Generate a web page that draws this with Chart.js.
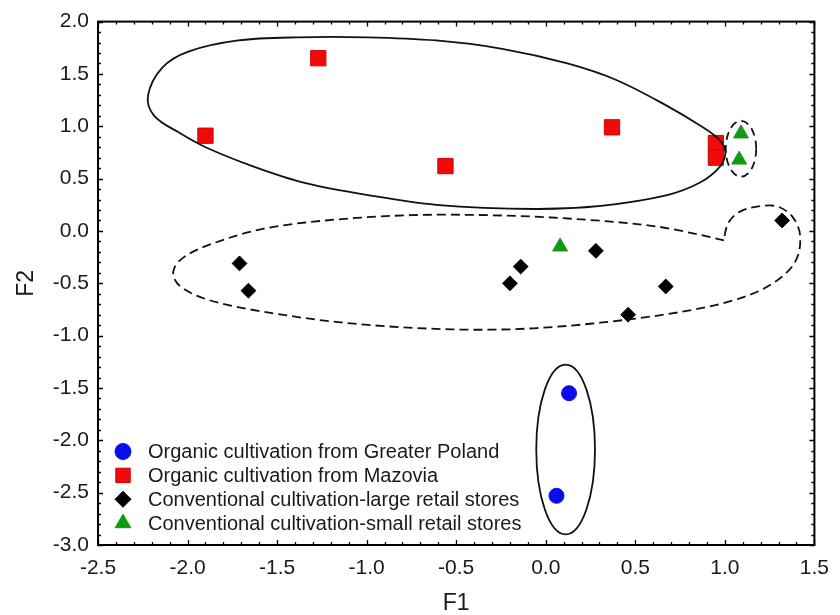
<!DOCTYPE html>
<html>
<head>
<meta charset="utf-8">
<script src="https://cdn.jsdelivr.net/npm/chart.js@4.4.1/dist/chart.umd.min.js"></script>
<style>
  html, body { margin: 0; padding: 0; background: #fff; }
</style>
</head>
<body>
<canvas id="myChart" width="840" height="615"></canvas>
<script>
'use strict'
// group names, same order as the datasets
const groupLabels = [
    'Organic cultivation from Greater Poland',
    'Organic cultivation from Mazovia',
    'Conventional cultivation-large retail stores',
    'Conventional cultivation-small retail stores'
];

// points (F1, F2)
const blueX = [0.13, 0.06];
const blueY = [-1.55, -2.53];
const redX = [-1.90, -1.27, -0.56, 0.37, 0.95, 0.95];
const redY = [0.91, 1.65, 0.62, 0.99, 0.84, 0.70];
const blackX = [-1.71, -1.66, -0.20, -0.14, 0.28, 0.46, 0.67, 1.32];
const blackY = [-0.31, -0.57, -0.50, -0.34, -0.19, -0.80, -0.53, 0.10];
const greenX = [1.09, 1.08, 0.08];
const greenY = [0.93, 0.68, -0.15];

// tick values of the axes
const xTicks = [-2.5, -2.0, -1.5, -1.0, -0.5, 0.0, 0.5, 1.0, 1.5];
const yTicks = [-3.0, -2.5, -2.0, -1.5, -1.0, -0.5, 0.0, 0.5, 1.0, 1.5, 2.0];

// hand drawn outlines round the groups, in F1/F2 units
const mazoviaLineX = [-2.221, -2.141, -1.992, -1.717, -1.386, -0.999, -0.613, -0.243, 0.121, 0.397, 0.672, 0.859, 0.970, 1.003, 0.970, 0.859, 0.672, 0.308, -0.061, -0.613, -0.983, -1.347, -1.623, -1.899, -2.048, -2.186];
const mazoviaLineY = [1.29, 1.56, 1.715, 1.82, 1.85, 1.85, 1.82, 1.74, 1.60, 1.44, 1.20, 1.01, 0.87, 0.75, 0.61, 0.46, 0.34, 0.24, 0.21, 0.25, 0.34, 0.46, 0.61, 0.80, 0.94, 1.10];
const largeLineX = [0.995, 0.63, 0.16, -0.30, -0.77, -1.23, -1.58, -1.86, -2.02, -2.08, -2.04, -1.88, -1.58, -1.11, -0.53, -0.07, 0.44, 0.86, 1.14, 1.31, 1.40, 1.42, 1.38, 1.30, 1.21, 1.09, 1.02];
const largeLineY = [-0.09, 0.04, 0.115, 0.15, 0.15, 0.10, 0.02, -0.12, -0.25, -0.39, -0.53, -0.66, -0.77, -0.88, -0.94, -0.93, -0.85, -0.74, -0.61, -0.45, -0.27, -0.04, 0.13, 0.23, 0.24, 0.19, 0.08];
const largeLineCorners = [0];
// ellipses: center x, center y, half width, half height
const smallEllipse = [1.09, 0.785, 0.085, 0.267];
const poznanEllipse = [0.111, -2.087, 0.164, 0.811];

const textColor = '#1a1a1a';
const fontFamily = "'Liberation Sans', Arial, sans-serif";

function toPoints(xs, ys){
    return xs.map((x, i) => ({x: x, y: ys[i]}));
}

//Closed smooth curve through the points, the handles are scaled by segment length
//so uneven spacing does not make the line wobble
function smoothClosedPath(ctx, pts, corners){
    const n = pts.length;
    const dirs = pts.map((p, i) => {
        if (corners.includes(i)) return {x: 0, y: 0};
        const a = pts[(i - 1 + n) % n];
        const b = pts[(i + 1) % n];
        const len = Math.hypot(b.x - a.x, b.y - a.y) || 1;
        return {x: (b.x - a.x) / len, y: (b.y - a.y) / len};
    });
    ctx.moveTo(pts[0].x, pts[0].y);
    for (let i = 0; i < n; i++){
        const j = (i + 1) % n;
        const d = Math.hypot(pts[j].x - pts[i].x, pts[j].y - pts[i].y) / 3;
        ctx.bezierCurveTo(pts[i].x + dirs[i].x * d, pts[i].y + dirs[i].y * d,
                          pts[j].x - dirs[j].x * d, pts[j].y - dirs[j].y * d,
                          pts[j].x, pts[j].y);
    }
    ctx.closePath();
}

const outlines = {
    id: 'outlines',
    afterDatasetsDraw(chart){
        const ctx = chart.ctx;
        const xs = chart.scales.x;
        const ys = chart.scales.y;
        const px = (xv, yv) => ({x: xs.getPixelForValue(xv), y: ys.getPixelForValue(yv)});

        ctx.save();
        ctx.strokeStyle = '#111';
        ctx.lineWidth = 1.8;

        //solid outline round Mazovia
        ctx.setLineDash([]);
        ctx.beginPath();
        smoothClosedPath(ctx, mazoviaLineX.map((v, i) => px(v, mazoviaLineY[i])), []);
        ctx.stroke();

        //dashed outline round the large stores
        ctx.setLineDash([9, 5]);
        ctx.beginPath();
        smoothClosedPath(ctx, largeLineX.map((v, i) => px(v, largeLineY[i])), largeLineCorners);
        ctx.stroke();

        //the two ellipses
        const drawEllipse = (e, dash) => {
            const c = px(e[0], e[1]);
            const rx = Math.abs(xs.getPixelForValue(e[0] + e[2]) - c.x);
            const ry = Math.abs(ys.getPixelForValue(e[1] + e[3]) - c.y);
            ctx.setLineDash(dash);
            ctx.beginPath();
            ctx.ellipse(c.x, c.y, rx, ry, 0, 0, Math.PI * 2);
            ctx.stroke();
        };
        drawEllipse(smallEllipse, [8, 5]);
        drawEllipse(poznanEllipse, []);
        ctx.restore();
    }
};

//Box round the plot with inward major and minor ticks on all four sides
const frame = {
    id: 'frame',
    afterDraw(chart){
        const ctx = chart.ctx;
        const a = chart.chartArea;
        const xs = chart.scales.x;
        const ys = chart.scales.y;
        ctx.save();
        ctx.strokeStyle = '#000';
        ctx.lineWidth = 1.3;
        ctx.beginPath();
        for (let k = Math.round(xs.min * 10); k <= Math.round(xs.max * 10); k++){
            const len = k % 5 == 0 ? 5 : 3;
            const p = Math.round(xs.getPixelForValue(k / 10)) + 0.5;
            ctx.moveTo(p, a.bottom); ctx.lineTo(p, a.bottom - len);
            ctx.moveTo(p, a.top); ctx.lineTo(p, a.top + len);
        }
        for (let k = Math.round(ys.min * 10); k <= Math.round(ys.max * 10); k++){
            const len = k % 5 == 0 ? 5 : 3;
            const p = Math.round(ys.getPixelForValue(k / 10)) + 0.5;
            ctx.moveTo(a.left, p); ctx.lineTo(a.left + len, p);
            ctx.moveTo(a.right, p); ctx.lineTo(a.right - len, p);
        }
        ctx.stroke();
        ctx.lineWidth = 2;
        ctx.strokeRect(a.left, a.top, a.right - a.left, a.bottom - a.top);
        ctx.restore();
    }
};

//Legend sits inside the plot, bottom left, without a box
const innerLegend = {
    id: 'innerLegend',
    afterDraw(chart){
        const ctx = chart.ctx;
        const a = chart.chartArea;
        const rowH = 23.9;
        const firstY = a.bottom - 93.5;
        ctx.save();
        ctx.font = '20px ' + fontFamily;
        ctx.textBaseline = 'middle';
        ctx.textAlign = 'left';
        chart.data.datasets.forEach((ds, i) => {
            const y = firstY + i * rowH;
            ctx.fillStyle = ds.backgroundColor;
            ctx.strokeStyle = ds.borderColor;
            ctx.lineWidth = ds.borderWidth;
            Chart.helpers.drawPoint(ctx, {
                pointStyle: ds.pointStyle,
                radius: ds.legendRadius,
                rotation: 0,
                borderWidth: ds.borderWidth
            }, a.left + 25, y);
            ctx.fillStyle = textColor;
            ctx.fillText(ds.label, a.left + 50, y + 1);
        });
        ctx.restore();
    }
};

const chartData = {
    datasets: [{
        label: groupLabels[0],
        data: toPoints(blueX, blueY),
        pointStyle: 'circle',
        pointRadius: 7.5,
        legendRadius: 8,
        backgroundColor: '#0b0bf0',
        borderColor: '#0b0bf0',
        borderWidth: 1
    }, {
        label: groupLabels[1],
        data: toPoints(redX, redY),
        pointStyle: 'rect',
        pointRadius: 10.8,
        legendRadius: 10.2,
        backgroundColor: '#f20a0a',
        borderColor: '#d40000',
        borderWidth: 1
    }, {
        label: groupLabels[2],
        data: toPoints(blackX, blackY),
        pointStyle: 'rectRot',
        pointRadius: 7.4,
        legendRadius: 8,
        backgroundColor: '#000',
        borderColor: '#000',
        borderWidth: 1
    }, {
        label: groupLabels[3],
        data: toPoints(greenX, greenY),
        pointStyle: 'triangle',
        pointRadius: 8.6,
        legendRadius: 9,
        backgroundColor: '#119a11',
        borderColor: '#119a11',
        borderWidth: 1
    }]
};

const tickFont = {family: fontFamily, size: 21};
const titleFont = {family: fontFamily, size: 23, lineHeight: 1};

const config = {
    type: 'scatter',
    data: chartData,
    options: {
        responsive: false,
        animation: false,
        layout: {padding: {left: 0, top: 18, right: 17, bottom: 0}},
        plugins: {
            legend: {display: false},
            tooltip: {enabled: false}
        },
        scales: {
            x: {
                type: 'linear',
                min: -2.5,
                max: 1.5,
                afterBuildTicks: s => { s.ticks = xTicks.map(v => ({value: v})); },
                afterFit: s => { s.height = 70; },
                grid: {display: false, drawTicks: false},
                border: {display: false},
                ticks: {padding: 11, font: tickFont, color: textColor, maxRotation: 0, callback: v => v.toFixed(1)},
                title: {display: true, text: 'F1', font: titleFont, color: textColor, padding: {top: 0, bottom: 0}}
            },
            y: {
                type: 'linear',
                min: -3,
                max: 2,
                afterBuildTicks: s => { s.ticks = yTicks.map(v => ({value: v})); },
                afterFit: s => { s.width = 98; },
                grid: {display: false, drawTicks: false},
                border: {display: false},
                ticks: {padding: 9, font: tickFont, color: textColor, callback: v => v.toFixed(1)},
                title: {display: true, text: 'F2', font: titleFont, color: textColor, padding: {top: 15, bottom: 0}}
            }
        }
    },
    plugins: [outlines, frame, innerLegend]
};

let myChart = new Chart(document.getElementById('myChart'), config);
</script>
</body>
</html>
